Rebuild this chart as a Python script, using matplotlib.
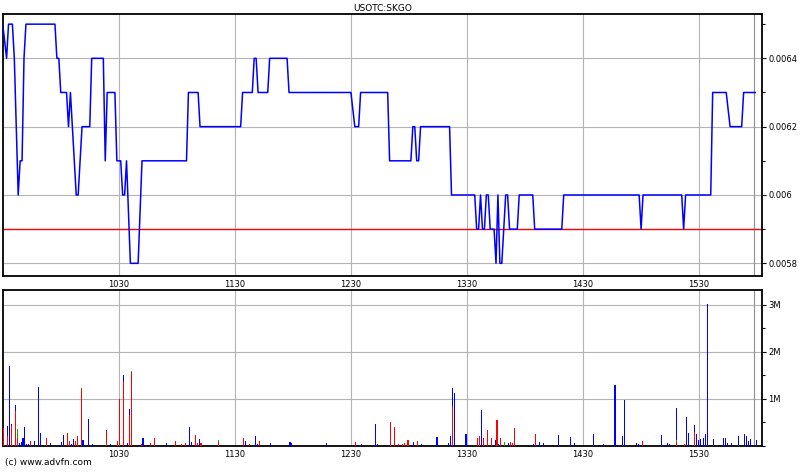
import matplotlib
matplotlib.use("Agg")
import matplotlib.pyplot as plt
from matplotlib.ticker import FixedLocator, MultipleLocator, FuncFormatter

plt.rcParams['font.family'] = ['DejaVu Sans']

symbol = "USOTC:SKGO"
prev_close = 0.0059

# trade times in minutes after the 09:30 open, last price at each turn
price_min = [0, 2, 3, 5, 6, 8, 9, 10, 11, 12, 27, 28, 29, 30, 33, 34, 35, 38, 39, 41,
             45, 46, 52, 53, 54, 58, 59, 61, 62, 63, 64, 66, 70, 72, 95, 96, 101, 102,
             123, 124, 129, 130, 131, 132, 137, 138, 147, 148, 180, 182, 184, 185,
             199, 200, 211, 212, 213, 214, 215, 216, 231, 232, 244, 245, 246, 247,
             248, 249, 250, 251, 252, 254, 255, 256, 257, 258, 260, 261, 262, 266,
             267, 274, 275, 289, 290, 329, 330, 331, 351, 352, 353, 366, 367, 374,
             376, 382, 383, 389]
price = [0.0065, 0.0064, 0.0065, 0.0065, 0.0064, 0.0060, 0.0061, 0.0061, 0.0064, 0.0065,
         0.0065, 0.0064, 0.0064, 0.0063, 0.0063, 0.0062, 0.0063, 0.0060, 0.0060, 0.0062,
         0.0062, 0.0064, 0.0064, 0.0061, 0.0063, 0.0063, 0.0061, 0.0061, 0.0060, 0.0060,
         0.0061, 0.0058, 0.0058, 0.0061, 0.0061, 0.0063, 0.0063, 0.0062, 0.0062, 0.0063,
         0.0063, 0.0064, 0.0064, 0.0063, 0.0063, 0.0064, 0.0064, 0.0063, 0.0063, 0.0062,
         0.0062, 0.0063, 0.0063, 0.0061, 0.0061, 0.0062, 0.0062, 0.0061, 0.0061, 0.0062,
         0.0062, 0.0060, 0.0060, 0.0059, 0.0059, 0.0060, 0.0059, 0.0059, 0.0060, 0.0060,
         0.0059, 0.0059, 0.0058, 0.0060, 0.0058, 0.0058, 0.0060, 0.0060, 0.0059, 0.0059,
         0.0060, 0.0060, 0.0059, 0.0059, 0.0060, 0.0060, 0.0059, 0.0060, 0.0060, 0.0059,
         0.0060, 0.0060, 0.0063, 0.0063, 0.0062, 0.0062, 0.0063, 0.0063]

# volume per minute, millions of shares (sell = red, neutral = green, buy = blue)
vol_min = [0, 2, 3, 4, 6, 7, 8, 9, 10, 11, 12, 13, 14, 16, 18, 19, 22, 24, 30, 31,
           33, 34, 35, 36, 37, 38, 40, 41, 44, 46, 53, 55, 59, 60, 62, 64, 65, 66, 71, 72,
           76, 78, 84, 89, 92, 94, 96, 97, 99, 100, 101, 102, 111, 124, 125, 127, 130, 131, 132, 138,
           148, 149, 167, 182, 185, 192, 193, 200, 202, 204, 206, 207, 209, 212, 214, 216, 224, 230, 231, 232,
           233, 239, 245, 246, 247, 248, 250, 252, 254, 255, 256, 257, 259, 261, 262, 263, 264, 274, 275, 277,
           279, 287, 293, 295, 305, 310, 316, 320, 321, 327, 328, 330, 340, 343, 344, 348, 352, 353, 354, 357,
           358, 359, 360, 362, 363, 364, 367, 372, 373, 374, 376, 380, 383, 384, 385, 386, 389]
vol_sell = [.38, .21, 0, .45, .75, .18, 0, 0, 0, 0, 0, 0, .11, 0, 0, 0, .17, 0, 0, 0,
            .28, .11, 0, 0, .11, .21, 1.21, 0, 0, 0, .32, 0, .11, 1.0, 1.37, 0, .66, 1.57, .035, 0,
            .07, .17, 0, .11, .04, .07, 0, 0, .23, .06, 0, .06, .08, .17, 0, .035, 0, 0, .11, 0,
            0, 0, 0, .085, 0, 0, 0, .51, .40, .04, .04, .06, .13, 0, .11, 0, 0, 0, 0, .82,
            0, 0, .17, .21, 0, .17, .33, .17, 0, .55, 0, .17, 0, 0, .085, .06, .38, 0, .26, 0,
            0, 0, 0, 0, 0, 0, 0, 0, 0, 0, 0, .11, 0, 0, 0, .09, .04, 0, 0, .30,
            0, 0, 0, 0, 0, 0, 0, 0, 0, 0, 0, 0, 0, 0, 0, 0, 0]
vol_neutral = [0, 0, 0, 0, 0, .18, 0, 0, 0, 0, 0, 0, 0, 0, 0, 0, 0, 0, 0, 0,
               0, 0, 0, 0, 0, 0, .02, 0, 0, 0, 0, 0, 0, 0, 0, 0, 0, .03, 0, 0,
               0, 0, 0, 0, 0, 0, 0, 0, 0, 0, 0, 0, .05, 0, 0, 0, 0, 0, 0, 0,
               0, 0, 0, 0, 0, 0, 0, 0, 0, 0, 0, 0, 0, 0, 0, 0, 0, 0, 0, 0,
               0, 0, 0, 0, 0, 0, .02, 0, 0, 0, 0, 0, .085, 0, 0, 0, 0, 0, 0, 0,
               0, 0, 0, 0, 0, 0, 0, 0, 0, 0, 0, 0, 0, 0, 0, .03, 0, 0, 0, 0,
               0, 0, 0, 0, 0, 0, 0, 0, 0, 0, 0, 0, 0, 0, 0, 0, 0]
vol_buy = [0, .22, 1.71, .02, .12, 0, .07, .09, .18, .40, .04, .05, 0, .11, 1.26, .28, 0, .06, .09, .23,
           0, 0, .04, .15, 0, 0, 0, .13, .57, .035, .02, .035, 0, 0, .13, .07, .13, 0, 0, .17,
           0, 0, .06, 0, 0, 0, .40, .085, 0, 0, .15, 0, 0, 0, .11, 0, .21, .04, 0, .06,
           .085, .06, .06, 0, .04, .47, .04, 0, 0, 0, 0, 0, 0, .085, 0, .04, .19, .06, .21, .41,
           1.13, .26, 0, 0, .77, 0, 0, 0, .13, 0, .04, 0, 0, .06, 0, 0, 0, .035, 0, .085,
           .06, .23, .19, .06, .26, .04, 1.30, .21, .98, .06, .04, 0, .23, .06, .04, .69, 0, .62, .28, .15,
           .26, .13, .15, .17, .26, 3.02, .15, .17, .17, .06, .06, .21, .26, .21, .11, .15, .13]

hour_ticks = [60, 120, 180, 240, 300, 360]
hour_labels = ["1030", "1130", "1230", "1330", "1430", "1530"]
x_end = 392.5
last_tick = 388.5

fig = plt.figure(figsize=(8, 4.75), dpi=100)
ax1 = fig.add_axes([0.0034, 0.4189, 0.9491, 0.5516])
ax2 = fig.add_axes([0.0034, 0.0611, 0.9491, 0.3284])

grid_col = "#b4b4b4"

for ax in (ax1, ax2):
    ax.set_xlim(0, x_end)
    ax.xaxis.set_major_locator(FixedLocator(hour_ticks))
    ax.set_xticklabels(hour_labels)
    ax.yaxis.tick_right()
    ax.tick_params(axis='both', which='both', labelsize=6, length=3, width=0.8,
                   pad=1.5, colors='black')
    ax.tick_params(axis='x', length=0, pad=3)
    ax.tick_params(axis='y', which='minor', length=2)
    ax.grid(True, which='major', color=grid_col, linewidth=0.8)
    ax.axvline(last_tick, color="#909090", linewidth=0.8)
    ax.set_axisbelow(True)
    for sp in ax.spines.values():
        sp.set_linewidth(1.3)
        sp.set_color('black')

# price panel
ax1.set_ylim(0.0057628, 0.0065297)
ax1.yaxis.set_major_locator(FixedLocator([0.0058, 0.006, 0.0062, 0.0064]))
ax1.yaxis.set_minor_locator(MultipleLocator(0.0001))
ax1.yaxis.set_major_formatter(FuncFormatter(lambda v, p: "%g" % round(v, 5)))
ax1.axhline(prev_close, color="#ff0000", linewidth=1.0, zorder=2)
ax1.plot(price_min, price, color="#0000ff", linewidth=1.1, zorder=3)
ax1.set_title(symbol, fontsize=6.5, pad=2)

# volume panel
ax2.set_ylim(0, 3.319)
ax2.yaxis.set_major_locator(FixedLocator([1, 2, 3]))
ax2.yaxis.set_minor_locator(MultipleLocator(0.5))
ax2.yaxis.set_major_formatter(FuncFormatter(lambda v, p: "%dM" % v))
bx = [m + 0.5 for m in vol_min]
base2 = [s + n for s, n in zip(vol_sell, vol_neutral)]
ax2.bar(bx, vol_sell, width=0.55, color="#ff0000", linewidth=0, zorder=3)
ax2.bar(bx, vol_neutral, width=0.55, bottom=vol_sell, color="#00b000", linewidth=0, zorder=3)
ax2.bar(bx, vol_buy, width=0.55, bottom=base2, color="#0000ff", linewidth=0, zorder=3)

fig.text(0.006, 0.016, "(c) www.advfn.com", fontsize=6.5, ha='left', va='bottom')

fig.savefig("out.png", dpi=100)
